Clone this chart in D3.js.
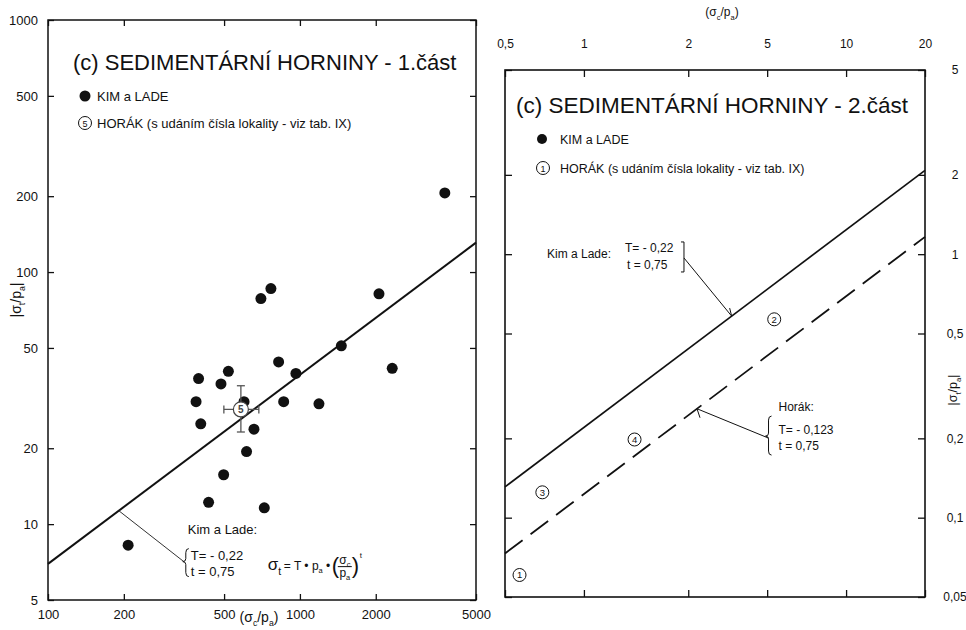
<!DOCTYPE html>
<html>
<head>
<meta charset="utf-8">
<script src="https://cdn.jsdelivr.net/npm/d3@7"></script>
<style>
  body { margin: 0; background: #fff; }
  svg { display: block; font-family: "Liberation Sans", Arial, sans-serif; }
</style>
</head>
<body>
<svg id="chart" width="966" height="630"></svg>
<script>
// ---- Part 1: Kim & Lade measurements (σc/pa, |σt/pa|) ----
const kimX1 = [3760, 700, 767, 2060, 1460, 823, 2325, 396, 520, 486, 964, 387, 600, 862, 1190, 404, 657, 614, 498, 434, 722, 208];
const kimY1 = [206, 78.5, 86, 82, 51, 44, 41.5, 37.8, 40.4, 36, 39.6, 30.6, 30.6, 30.6, 30, 25, 23.8, 19.4, 15.7, 12.2, 11.6, 8.25];

// ---- Part 1: Horák site mean with ranges ----
const horakNo1 = [5];
const horakX1 = [583];
const horakY1 = [28.5];
const horakXLo1 = [499], horakXHi1 = [687];
const horakYLo1 = [23.2], horakYHi1 = [35.4];

// ---- Part 2: Horák numbered sites ----
const horakNo2 = [1, 2, 3, 4];
const horakX2 = [0.568, 5.32, 0.694, 1.56];
const horakY2 = [0.0606, 0.566, 0.1248, 0.198];

// ---- Fitted relations σt = T·pa·(σc/pa)^t ----
const kimT = -0.22, kimExp = 0.75;
const horakT = -0.123, horakExp = 0.75;

// ---- Axis ticks ----
const xTicks1 = [100, 200, 500, 1000, 2000, 5000];
const yTicks1 = [5, 10, 20, 50, 100, 200, 500, 1000];
const xTicks2 = [0.5, 1, 2.5, 5, 10, 20];
const xTickLabels2 = ["0,5", "1", "2", "5", "10", "20"];
const yTicks2 = [0.05, 0.1, 0.2, 0.5, 1, 2, 5];
const yTickLabels2 = ["0,05", "0,1", "0,2", "0,5", "1", "2", "5"];

const fmtComma = v => String(v).replace(".", ",");
const fmtT = v => (v < 0 ? "T= - " : "T= ") + fmtComma(Math.abs(v));
const fmtt = v => "t = " + fmtComma(v);

const svg = d3.select("#chart");
const ink = "#111";

// rich text helper: parts = [[text, "sub"|"sup"|""], ...]
function richText(sel, parts, size) {
  let shift = 0;
  parts.forEach(([txt, kind]) => {
    const t = sel.append("tspan").text(txt);
    let target = 0;
    if (kind === "sub") { t.attr("font-size", size * 0.62); target = size * 0.3; }
    else if (kind === "sup") { t.attr("font-size", size * 0.62); target = -size * 0.45; }
    else { t.attr("font-size", size); }
    t.attr("dy", target - shift);
    shift = target;
  });
}

function fitLine(T, e) {
  return x => Math.abs(T) * Math.pow(x, e);
}

function stripDomain(g) { g.select(".domain").remove(); }

// =================== PART 1 ===================
const x1 = d3.scaleLog().domain([100, 5000]).range([48, 476]);
const y1 = d3.scaleLog().domain([5, 1000]).range([600, 20]);
const p1 = svg.append("g");

p1.append("g").attr("transform", `translate(${x1.range()[0]},0)`)
  .call(d3.axisLeft(y1).tickValues(yTicks1).tickSize(-6).tickPadding(10).tickFormat(d3.format("d")))
  .call(stripDomain);
p1.append("g").attr("transform", `translate(${x1.range()[1]},0)`)
  .call(d3.axisRight(y1).tickValues(yTicks1).tickSize(-6).tickFormat(""))
  .call(stripDomain);
p1.append("g").attr("transform", `translate(0,${y1.range()[0]})`)
  .call(d3.axisBottom(x1).tickValues(xTicks1).tickSize(-6).tickPadding(10).tickFormat(d3.format("d")))
  .call(stripDomain);
p1.append("g").attr("transform", `translate(0,${y1.range()[1]})`)
  .call(d3.axisTop(x1).tickValues(xTicks1).tickSize(-6).tickFormat(""))
  .call(stripDomain);
p1.selectAll(".tick text").attr("font-size", 13).attr("fill", ink).attr("font-family", null);
p1.selectAll(".tick line").attr("stroke", ink).attr("stroke-width", 1.3);

p1.append("rect")
  .attr("x", x1.range()[0]).attr("y", y1.range()[1])
  .attr("width", x1.range()[1] - x1.range()[0]).attr("height", y1.range()[0] - y1.range()[1])
  .attr("fill", "none").attr("stroke", ink).attr("stroke-width", 1.5);

// fitted Kim & Lade line
const kimF = fitLine(kimT, kimExp);
p1.append("path")
  .datum(x1.domain())
  .attr("d", d3.line().x(d => x1(d)).y(d => y1(kimF(d))))
  .attr("fill", "none").attr("stroke", ink).attr("stroke-width", 2);

// points
p1.append("g").selectAll("circle").data(kimX1.map((x, i) => [x, kimY1[i]])).join("circle")
  .attr("cx", d => x1(d[0])).attr("cy", d => y1(d[1])).attr("r", 5.5).attr("fill", ink);

// Horák site with ranges
horakNo1.forEach((n, i) => {
  const g = p1.append("g").attr("stroke", "#555").attr("stroke-width", 1.3);
  const cx = x1(horakX1[i]), cy = y1(horakY1[i]);
  const xl = x1(horakXLo1[i]), xh = x1(horakXHi1[i]);
  const yl = y1(horakYLo1[i]), yh = y1(horakYHi1[i]);
  g.append("line").attr("x1", xl).attr("x2", xh).attr("y1", cy).attr("y2", cy);
  g.append("line").attr("x1", cx).attr("x2", cx).attr("y1", yl).attr("y2", yh);
  g.append("line").attr("x1", xl).attr("x2", xl).attr("y1", cy - 4).attr("y2", cy + 4);
  g.append("line").attr("x1", xh).attr("x2", xh).attr("y1", cy - 4).attr("y2", cy + 4);
  g.append("line").attr("x1", cx - 4).attr("x2", cx + 4).attr("y1", yl).attr("y2", yl);
  g.append("line").attr("x1", cx - 4).attr("x2", cx + 4).attr("y1", yh).attr("y2", yh);
  p1.append("circle").attr("cx", cx).attr("cy", cy).attr("r", 7.5)
    .attr("fill", "#fff").attr("stroke", "#444").attr("stroke-width", 1.2);
  p1.append("text").attr("x", cx).attr("y", cy + 3.5).attr("text-anchor", "middle")
    .attr("font-size", 10).attr("font-weight", "bold").attr("fill", "#444").text(n);
});

// title and legend
p1.append("text").attr("x", 73).attr("y", 70).attr("font-size", 22).attr("fill", ink)
  .text("(c) SEDIMENTÁRNÍ HORNINY - 1.část");
p1.append("circle").attr("cx", 85).attr("cy", 96).attr("r", 5.5).attr("fill", ink);
p1.append("text").attr("x", 97).attr("y", 101).attr("font-size", 13).attr("fill", ink).text("KIM a LADE");
p1.append("circle").attr("cx", 85).attr("cy", 123).attr("r", 6.5)
  .attr("fill", "#fff").attr("stroke", ink).attr("stroke-width", 1);
p1.append("text").attr("x", 85).attr("y", 126.5).attr("text-anchor", "middle").attr("font-size", 9).attr("fill", ink).text("5");
p1.append("text").attr("x", 97).attr("y", 128).attr("font-size", 13).attr("fill", ink)
  .text("HORÁK (s udáním čísla lokality - viz tab. IX)");

// axis titles
richText(p1.append("text").attr("transform", "translate(21,300) rotate(-90)").attr("text-anchor", "middle").attr("fill", ink),
  [["|σ", ""], ["t", "sub"], ["/p", ""], ["a", "sub"], ["|", ""]], 14);
richText(p1.append("text").attr("x", 259).attr("y", 622).attr("text-anchor", "middle").attr("fill", ink),
  [["(σ", ""], ["c", "sub"], ["/p", ""], ["a", "sub"], [")", ""]], 14);

// Kim & Lade annotation
{
  const ax = 346, ay = 7.1;             // bracket anchor (data units)
  const px = x1(ax), py = y1(ay);
  const lx = 191;                        // point on the fit line
  p1.append("line").attr("x1", x1(lx)).attr("y1", y1(kimF(lx))).attr("x2", px).attr("y2", py)
    .attr("stroke", "#333").attr("stroke-width", 1);
  p1.append("text").attr("x", px + 4).attr("y", py - 28).attr("font-size", 13).attr("fill", ink).text("Kim a Lade:");
  const bx = px + 2, top = py - 13, bot = py + 15, mid = py;
  p1.append("path")
    .attr("d", `M${bx + 3},${top} Q${bx},${top} ${bx},${top + 4} L${bx},${mid - 3} Q${bx},${mid} ${bx - 3},${mid} Q${bx},${mid} ${bx},${mid + 3} L${bx},${bot - 4} Q${bx},${bot} ${bx + 3},${bot}`)
    .attr("fill", "none").attr("stroke", ink).attr("stroke-width", 1);
  p1.append("text").attr("x", px + 7).attr("y", py - 2).attr("font-size", 13).attr("fill", ink).text(fmtT(kimT));
  p1.append("text").attr("x", px + 7).attr("y", py + 14).attr("font-size", 13).attr("fill", ink).text(fmtt(kimExp));

  // formula σt = T·pa·(σc/pa)^t
  const fx = px + 84, fy = py + 8;
  const f = p1.append("g").attr("fill", ink);
  richText(f.append("text").attr("x", fx).attr("y", fy), [["σ", ""], ["t", "sub"]], 17);
  richText(f.append("text").attr("x", fx + 16).attr("y", fy), [["= T • p", ""], ["a", "sub"], [" •", ""]], 12);
  f.append("text").attr("x", fx + 64).attr("y", fy + 3).attr("font-size", 22).text("(");
  richText(f.append("text").attr("x", fx + 77).attr("y", fy - 6).attr("text-anchor", "middle"), [["σ", ""], ["c", "sub"]], 12);
  f.append("line").attr("x1", fx + 70).attr("x2", fx + 84).attr("y1", fy - 3).attr("y2", fy - 3).attr("stroke", ink).attr("stroke-width", 1);
  richText(f.append("text").attr("x", fx + 77).attr("y", fy + 7).attr("text-anchor", "middle"), [["p", ""], ["a", "sub"]], 12);
  f.append("text").attr("x", fx + 84).attr("y", fy + 3).attr("font-size", 22).text(")");
  f.append("text").attr("x", fx + 92).attr("y", fy - 12).attr("font-size", 8).text("t");
}

// =================== PART 2 ===================
const x2 = d3.scaleLog().domain([0.5, 20]).range([505, 925]);
const y2 = d3.scaleLog().domain([0.05, 5]).range([597, 70]);
const p2 = svg.append("g");

p2.append("g").attr("transform", `translate(0,${y2.range()[1]})`)
  .call(d3.axisTop(x2).tickValues(xTicks2).tickSize(-7).tickPadding(22).tickFormat((d, i) => xTickLabels2[i]))
  .call(stripDomain);
p2.append("g").attr("transform", `translate(0,${y2.range()[0]})`)
  .call(d3.axisBottom(x2).tickValues(xTicks2).tickSize(-7).tickFormat(""))
  .call(stripDomain);
p2.append("g").attr("transform", `translate(${x2.range()[0]},0)`)
  .call(d3.axisLeft(y2).tickValues(yTicks2).tickSize(-7).tickFormat(""))
  .call(stripDomain);
const rAx = p2.append("g").attr("transform", `translate(${x2.range()[1]},0)`)
  .call(d3.axisRight(y2).tickValues(yTicks2).tickSize(-7).tickFormat((d, i) => yTickLabels2[i]))
  .call(stripDomain);
rAx.selectAll(".tick text").attr("x", 30).attr("text-anchor", "middle");
p2.selectAll(".tick text").attr("font-size", 12).attr("fill", ink).attr("font-family", null);
p2.selectAll(".tick line").attr("stroke", ink).attr("stroke-width", 1.3);

p2.append("rect")
  .attr("x", x2.range()[0]).attr("y", y2.range()[1])
  .attr("width", x2.range()[1] - x2.range()[0]).attr("height", y2.range()[0] - y2.range()[1])
  .attr("fill", "none").attr("stroke", ink).attr("stroke-width", 1.6);

const kimF2 = fitLine(kimT, kimExp);
const horakF2 = fitLine(horakT, horakExp);
p2.append("path").datum(x2.domain())
  .attr("d", d3.line().x(d => x2(d)).y(d => y2(kimF2(d))))
  .attr("fill", "none").attr("stroke", ink).attr("stroke-width", 1.7);
p2.append("path").datum(x2.domain())
  .attr("d", d3.line().x(d => x2(d)).y(d => y2(horakF2(d))))
  .attr("fill", "none").attr("stroke", ink).attr("stroke-width", 1.8).attr("stroke-dasharray", "22,10");

// numbered Horák sites
const sites = p2.append("g").selectAll("g").data(horakNo2.map((n, i) => ({ n, x: horakX2[i], y: horakY2[i] }))).join("g")
  .attr("transform", d => `translate(${x2(d.x)},${y2(d.y)})`);
sites.append("circle").attr("r", 6.5).attr("fill", "#fff").attr("stroke", ink).attr("stroke-width", 1);
sites.append("text").attr("y", 3.5).attr("text-anchor", "middle").attr("font-size", 9.5).attr("fill", ink).text(d => d.n);

// title and legend
p2.append("text").attr("x", 516).attr("y", 113).attr("font-size", 22.5).attr("fill", ink)
  .text("(c) SEDIMENTÁRNÍ HORNINY - 2.část");
p2.append("circle").attr("cx", 542).attr("cy", 139).attr("r", 5).attr("fill", ink);
p2.append("text").attr("x", 560).attr("y", 144).attr("font-size", 12.5).attr("fill", ink).text("KIM a LADE");
p2.append("circle").attr("cx", 543).attr("cy", 168).attr("r", 6.5)
  .attr("fill", "#fff").attr("stroke", ink).attr("stroke-width", 1);
p2.append("text").attr("x", 543).attr("y", 171.5).attr("text-anchor", "middle").attr("font-size", 9).attr("fill", ink).text("1");
p2.append("text").attr("x", 560).attr("y", 173).attr("font-size", 12.5).attr("fill", ink)
  .text("HORÁK (s udáním čísla lokality - viz tab. IX)");

// axis titles
richText(p2.append("text").attr("x", 722).attr("y", 16).attr("text-anchor", "middle").attr("fill", ink),
  [["(σ", ""], ["c", "sub"], ["/p", ""], ["a", "sub"], [")", ""]], 12);
richText(p2.append("text").attr("transform", "translate(957,390) rotate(-90)").attr("text-anchor", "middle").attr("fill", ink),
  [["|σ", ""], ["t", "sub"], ["/p", ""], ["a", "sub"], ["|", ""]], 12.5);

// Kim & Lade annotation
{
  const bx = x2(2.387), by = y2(0.976);   // bracket anchor
  const lx = 3.66;
  const ex = x2(lx), ey = y2(kimF2(lx));
  p2.append("text").attr("x", bx - 136).attr("y", by + 1).attr("font-size", 12).attr("fill", ink).text("Kim a Lade:");
  p2.append("text").attr("x", bx - 58).attr("y", by - 5).attr("font-size", 12).attr("fill", ink).text(fmtT(kimT));
  p2.append("text").attr("x", bx - 56).attr("y", by + 12).attr("font-size", 12).attr("fill", ink).text(fmtt(kimExp));
  p2.append("path").attr("d", `M${bx - 2},${by - 15} L${bx + 1},${by - 15} L${bx + 1},${by + 15} L${bx - 2},${by + 15}`)
    .attr("fill", "none").attr("stroke", ink).attr("stroke-width", 1);
  p2.append("line").attr("x1", bx + 1).attr("y1", by + 1).attr("x2", ex).attr("y2", ey)
    .attr("stroke", ink).attr("stroke-width", 1);
  p2.append("line").attr("x1", ex).attr("y1", ey).attr("x2", ex - 2).attr("y2", ey - 8)
    .attr("stroke", ink).attr("stroke-width", 1);
}

// Horák annotation
{
  const bx = x2(5.06), by = y2(0.204);    // brace anchor
  const lx = 2.70;
  const ex = x2(lx), ey = y2(horakF2(lx));
  p2.append("line").attr("x1", bx).attr("y1", by + 2).attr("x2", ex).attr("y2", ey)
    .attr("stroke", ink).attr("stroke-width", 1);
  p2.append("line").attr("x1", ex).attr("y1", ey).attr("x2", ex + 3).attr("y2", ey + 9)
    .attr("stroke", ink).attr("stroke-width", 1);
  const top = by - 20, bot = by + 19, mid = by;
  p2.append("path")
    .attr("d", `M${bx + 3},${top} Q${bx},${top} ${bx},${top + 4} L${bx},${mid - 3} Q${bx},${mid} ${bx - 3},${mid} Q${bx},${mid} ${bx},${mid + 3} L${bx},${bot - 4} Q${bx},${bot} ${bx + 3},${bot}`)
    .attr("fill", "none").attr("stroke", ink).attr("stroke-width", 1);
  p2.append("text").attr("x", bx + 10).attr("y", by - 25).attr("font-size", 12).attr("fill", ink).text("Horák:");
  p2.append("text").attr("x", bx + 10).attr("y", by - 2).attr("font-size", 12).attr("fill", ink).text(fmtT(horakT));
  p2.append("text").attr("x", bx + 10).attr("y", by + 14).attr("font-size", 12).attr("fill", ink).text(fmtt(horakExp));
}
</script>
</body>
</html>
